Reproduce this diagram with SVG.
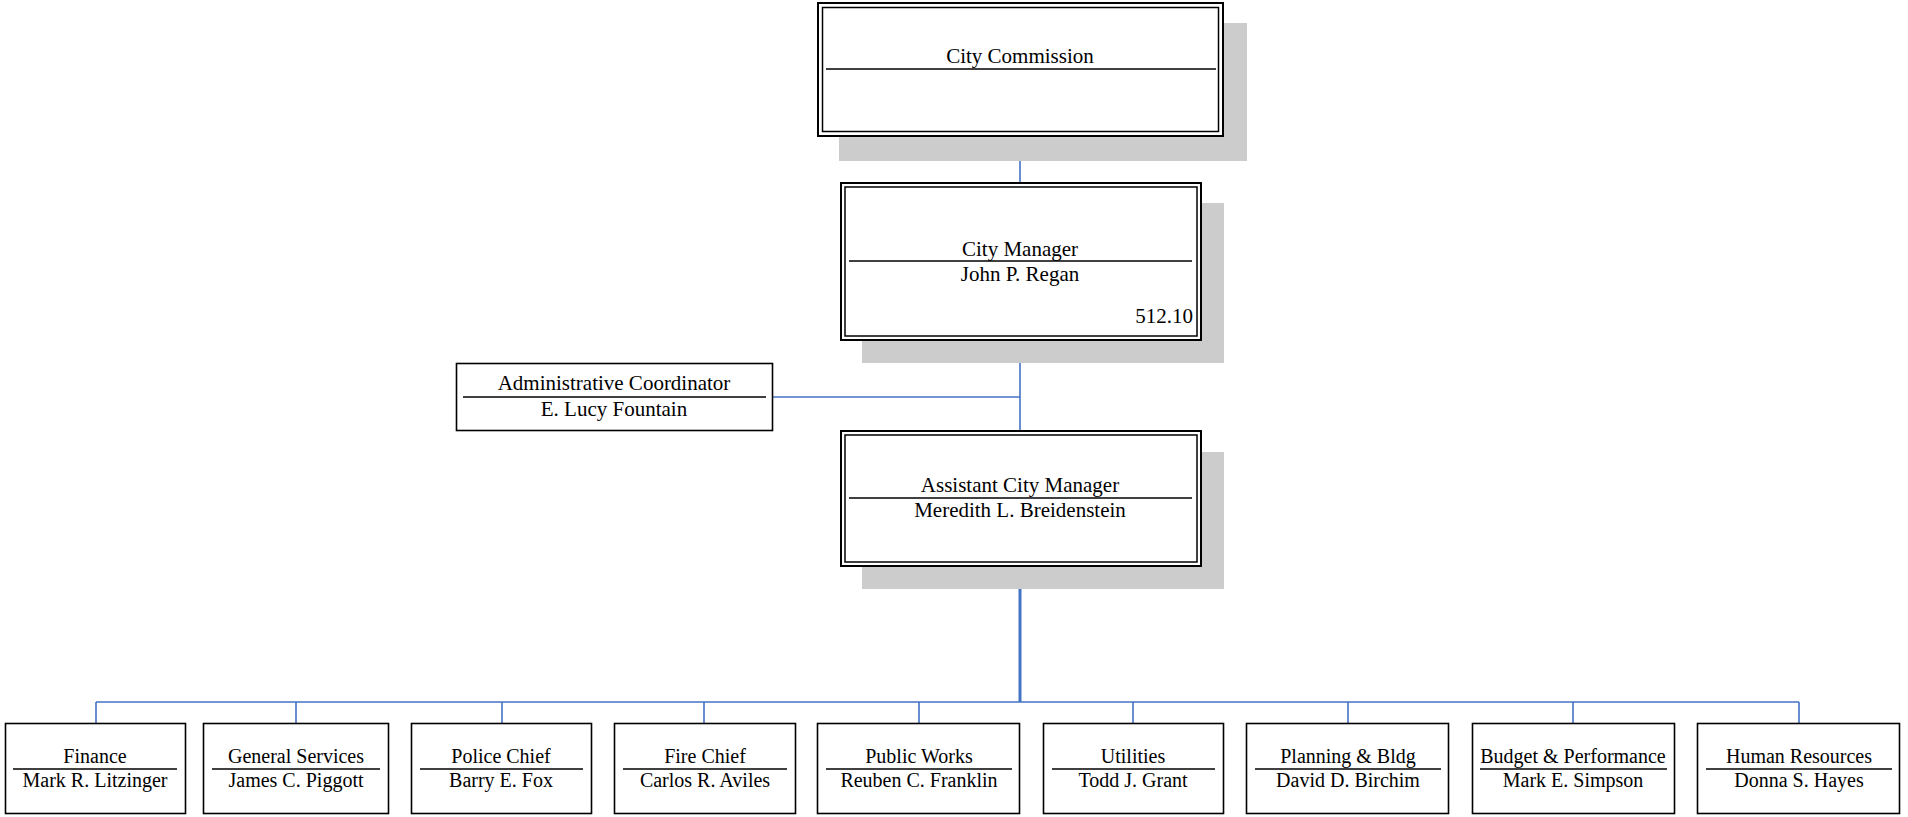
<svg xmlns="http://www.w3.org/2000/svg" width="1908" height="817" viewBox="0 0 1908 817">
<style>
.shadow{fill:#cccccc}
.outer{fill:#ffffff;stroke:#000;stroke-width:2}
.inner{fill:none;stroke:#000;stroke-width:1.5}
.box{fill:#ffffff;stroke:#000;stroke-width:1.6}
.div{stroke:#000;stroke-width:1.6}
.t{font-family:"Liberation Serif","Times New Roman",serif;font-size:21px;fill:#000;text-anchor:middle}
.s{font-family:"Liberation Serif","Times New Roman",serif;font-size:20px;fill:#000;text-anchor:middle}
.conn{stroke:#4472C4;stroke-width:1.6;fill:none}
</style>
<rect width="1908" height="817" fill="#ffffff"/>
<g id="connectors">
<line class="conn" x1="1020" y1="137" x2="1020" y2="182"/>
<line class="conn" x1="1020" y1="341" x2="1020" y2="430"/>
<line class="conn" x1="773" y1="397" x2="1020" y2="397"/>
<line class="conn" x1="1020" y1="567" x2="1020" y2="702" style="stroke-width:3"/>
<line class="conn" x1="96" y1="702" x2="1799" y2="702"/>
<line class="conn" x1="96" y1="702" x2="96" y2="723"/>
<line class="conn" x1="296" y1="702" x2="296" y2="723"/>
<line class="conn" x1="502" y1="702" x2="502" y2="723"/>
<line class="conn" x1="704" y1="702" x2="704" y2="723"/>
<line class="conn" x1="919" y1="702" x2="919" y2="723"/>
<line class="conn" x1="1133" y1="702" x2="1133" y2="723"/>
<line class="conn" x1="1348" y1="702" x2="1348" y2="723"/>
<line class="conn" x1="1573" y1="702" x2="1573" y2="723"/>
<line class="conn" x1="1799" y1="702" x2="1799" y2="723"/>
</g>
<g id="city-commission">
<rect class="shadow" x="839" y="23" width="408" height="138"/>
<rect class="outer" x="818" y="3" width="405" height="133"/>
<rect class="inner" x="822.5" y="7.5" width="396" height="124"/>
<text class="t" x="1020" y="63">City Commission</text>
<line class="div" x1="826" y1="69" x2="1216" y2="69"/>
</g>
<g id="city-manager">
<rect class="shadow" x="862" y="203" width="362" height="160"/>
<rect class="outer" x="841" y="183" width="360" height="157"/>
<rect class="inner" x="845" y="187" width="352" height="149"/>
<text class="t" x="1020" y="256">City Manager</text>
<line class="div" x1="849" y1="261" x2="1192" y2="261"/>
<text class="t" x="1020" y="281">John P. Regan</text>
<text class="t" x="1193" y="323" style="text-anchor:end">512.10</text>
</g>
<g id="admin-coordinator">
<rect class="box" x="456.5" y="363.5" width="316" height="67"/>
<text class="t" x="614" y="390">Administrative Coordinator</text>
<line class="div" x1="463" y1="397" x2="766" y2="397"/>
<text class="t" x="614" y="416">E. Lucy Fountain</text>
</g>
<g id="assistant-city-manager">
<rect class="shadow" x="862" y="452" width="362" height="137"/>
<rect class="outer" x="841" y="431" width="360" height="135"/>
<rect class="inner" x="845" y="435" width="352" height="127"/>
<text class="t" x="1020" y="492">Assistant City Manager</text>
<line class="div" x1="849" y1="498" x2="1192" y2="498"/>
<text class="t" x="1020" y="517">Meredith L. Breidenstein</text>
</g>
<g id="finance">
<rect class="box" x="5.5" y="723.5" width="180" height="90"/>
<text class="s" x="95" y="763">Finance</text>
<line class="div" x1="13" y1="769" x2="177" y2="769"/>
<text class="s" x="95" y="787">Mark R. Litzinger</text>
</g>
<g id="general-services">
<rect class="box" x="203.5" y="723.5" width="185" height="90"/>
<text class="s" x="296" y="763">General Services</text>
<line class="div" x1="212" y1="769" x2="380" y2="769"/>
<text class="s" x="296" y="787">James C. Piggott</text>
</g>
<g id="police-chief">
<rect class="box" x="411.5" y="723.5" width="180" height="90"/>
<text class="s" x="501" y="763">Police Chief</text>
<line class="div" x1="420" y1="769" x2="583" y2="769"/>
<text class="s" x="501" y="787">Barry E. Fox</text>
</g>
<g id="fire-chief">
<rect class="box" x="614.5" y="723.5" width="181" height="90"/>
<text class="s" x="705" y="763">Fire Chief</text>
<line class="div" x1="623" y1="769" x2="787" y2="769"/>
<text class="s" x="705" y="787">Carlos R. Aviles</text>
</g>
<g id="public-works">
<rect class="box" x="817.5" y="723.5" width="202" height="90"/>
<text class="s" x="919" y="763">Public Works</text>
<line class="div" x1="826" y1="769" x2="1012" y2="769"/>
<text class="s" x="919" y="787">Reuben C. Franklin</text>
</g>
<g id="utilities">
<rect class="box" x="1043.5" y="723.5" width="180" height="90"/>
<text class="s" x="1133" y="763">Utilities</text>
<line class="div" x1="1052" y1="769" x2="1215" y2="769"/>
<text class="s" x="1133" y="787">Todd J. Grant</text>
</g>
<g id="planning-bldg">
<rect class="box" x="1246.5" y="723.5" width="202" height="90"/>
<text class="s" x="1348" y="763">Planning &amp; Bldg</text>
<line class="div" x1="1255" y1="769" x2="1441" y2="769"/>
<text class="s" x="1348" y="787">David D. Birchim</text>
</g>
<g id="budget-performance">
<rect class="box" x="1472.5" y="723.5" width="202" height="90"/>
<text class="s" x="1573" y="763">Budget &amp; Performance</text>
<line class="div" x1="1480" y1="769" x2="1667" y2="769"/>
<text class="s" x="1573" y="787">Mark E. Simpson</text>
</g>
<g id="human-resources">
<rect class="box" x="1697.5" y="723.5" width="202" height="90"/>
<text class="s" x="1799" y="763">Human Resources</text>
<line class="div" x1="1706" y1="769" x2="1892" y2="769"/>
<text class="s" x="1799" y="787">Donna S. Hayes</text>
</g>
</svg>
